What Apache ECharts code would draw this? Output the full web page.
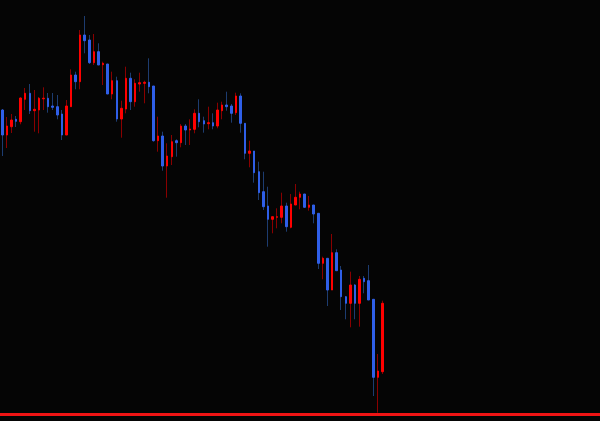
<!DOCTYPE html>
<html>
<head>
<meta charset="utf-8">
<style>
html,body{margin:0;padding:0;background:#050505;}
#chart{width:600px;height:421px;}
</style>
<script src="https://cdn.jsdelivr.net/npm/echarts@6/dist/echarts.min.js"></script>
</head>
<body>
<div id="chart"></div>
<script>
// Price data (one entry per candle)
const opens = [189.00,186.50,187.33,188.07,187.83,190.07,190.67,188.93,189.00,190.12,
190.17,189.40,189.33,188.60,186.50,189.33,192.50,191.83,196.50,196.00,
193.73,194.83,193.53,193.60,190.60,191.93,188.10,189.10,192.17,189.83,
191.60,191.67,191.77,191.40,185.93,186.40,183.40,184.33,185.93,185.73,
187.40,187.00,187.07,188.67,187.93,187.63,187.73,187.40,188.93,189.50,
189.40,188.73,190.40,187.67,184.67,184.90,182.83,180.83,179.40,178.07,
178.27,178.27,179.40,177.27,179.50,180.27,180.60,179.27,179.50,178.67,
173.67,174.17,171.00,174.73,173.00,170.33,169.67,171.50,169.67,172.17,
171.93,170.07,162.27,162.83];
const closes = [186.50,187.40,188.00,187.87,190.20,190.67,188.93,189.07,190.17,190.18,
189.33,189.27,188.50,186.50,189.40,192.50,191.83,196.50,195.93,193.73,
194.83,193.50,193.67,190.60,191.93,188.10,189.17,192.17,189.83,191.67,
191.73,191.77,191.33,185.93,186.40,183.40,184.40,185.83,185.73,187.40,
187.00,187.10,188.67,187.83,187.60,187.73,187.40,189.00,189.50,189.33,
188.67,190.40,187.67,184.67,184.90,182.73,180.73,179.33,178.07,178.33,
178.33,179.40,177.33,179.60,180.27,180.60,179.27,179.50,178.60,173.67,
174.17,171.00,174.73,172.93,170.33,169.67,171.50,169.67,172.07,171.83,
170.00,162.27,162.90,169.67];
const lows = [184.40,185.20,186.70,187.30,187.57,189.00,188.60,186.83,186.67,189.00,
188.73,189.00,188.07,186.00,186.50,189.33,191.07,191.07,194.67,193.60,
193.50,193.50,191.50,190.60,190.07,187.83,186.23,188.67,189.00,189.33,
190.83,189.67,190.67,185.83,184.83,182.93,180.23,183.50,184.33,185.27,
185.50,185.50,186.67,187.27,186.73,187.07,187.07,187.17,188.07,188.93,
187.73,188.50,186.73,184.07,183.27,181.73,180.00,179.00,175.33,176.67,
177.17,177.67,176.83,177.17,179.50,179.07,179.27,178.93,177.67,173.10,
172.07,169.40,171.00,172.93,169.00,168.07,167.27,168.07,167.33,170.67,
170.00,160.40,158.73,162.60];
const highs = [189.10,188.30,188.60,188.40,190.27,191.20,191.60,191.00,190.30,191.27,
190.70,190.70,190.50,189.00,190.00,193.07,192.83,197.00,198.40,196.50,
196.60,195.67,193.83,193.60,192.83,192.33,189.93,193.33,192.73,192.07,
192.73,191.93,194.17,191.40,188.33,186.83,185.67,186.50,186.07,187.60,
187.60,188.07,189.07,190.07,188.33,189.33,188.67,189.73,189.83,190.83,
189.60,190.73,190.67,187.67,185.93,184.90,183.83,182.83,181.33,178.33,
179.17,180.73,179.73,180.60,181.60,180.83,180.60,180.40,179.50,178.67,
174.33,174.17,176.60,175.07,173.40,170.40,172.83,171.60,172.40,172.40,
173.50,170.07,164.60,169.93];
const levelLine = 158.6;          // horizontal red price level
const slotCount = 131;            // total bar slots on the time axis (right part empty)
const categories = Array.from({length: slotCount}, (_, i) => 'Bar ' + (i + 1));

const fullData = opens.map((o, i) => [o, closes[i], lows[i], highs[i]]);
const bodyData = opens.map((o, i) => [o, closes[i], Math.min(o, closes[i]), Math.max(o, closes[i])]);

const chart = echarts.init(document.getElementById('chart'), null, {renderer: 'canvas'});
chart.setOption({
  backgroundColor: '#050505',
  animation: false,
  grid: {left: -2.3, right: -0.3, top: 0, bottom: 0},
  xAxis: {
    type: 'category', data: categories, boundaryGap: true,
    axisLine: {show: false}, axisTick: {show: false}, axisLabel: {show: false}, splitLine: {show: false}
  },
  yAxis: {
    type: 'value', min: 157.9, max: 200, scale: true,
    axisLine: {show: false}, axisTick: {show: false}, axisLabel: {show: false}, splitLine: {show: false}
  },
  series: [
    {
      name: 'wicks', type: 'candlestick', data: fullData, barWidth: 1,
      itemStyle: {color: '#8a0000', color0: '#1d3c70', borderColor: '#8a0000', borderColor0: '#1d3c70', borderWidth: 1},
      markLine: {
        silent: true, symbol: ['none', 'none'], label: {show: false},
        lineStyle: {color: '#f01414', width: 3, type: 'solid'},
        data: [{yAxis: levelLine}]
      }
    },
    {
      name: 'bodies', type: 'candlestick', data: bodyData, barWidth: 2,
      itemStyle: {color: '#ff0000', color0: '#2f5fe8', borderColor: '#ff0000', borderColor0: '#2f5fe8', borderWidth: 1}
    }
  ]
});
</script>
</body>
</html>
